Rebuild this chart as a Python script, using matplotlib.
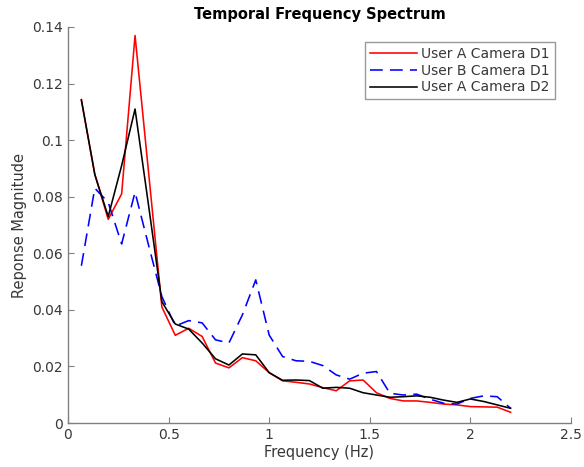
import numpy as np
import matplotlib
matplotlib.use("Agg")
import matplotlib.pyplot as plt
from matplotlib.ticker import FuncFormatter

freq = [k / 15 for k in range(1, 34)]

user_a_d1 = [0.114, 0.088, 0.072, 0.081, 0.137, 0.089, 0.041, 0.031, 0.0335, 0.0306,
             0.0212, 0.0195, 0.0231, 0.022, 0.0178, 0.0149, 0.0144, 0.0138, 0.0125, 0.0114,
             0.0149, 0.0152, 0.0107, 0.0087, 0.0078, 0.0078, 0.0073, 0.0067, 0.0064, 0.0058,
             0.0057, 0.0056, 0.0038]
user_b_d1 = [0.0556, 0.083, 0.078, 0.0633, 0.0816, 0.063, 0.0447, 0.0343, 0.0362, 0.0354,
             0.0294, 0.0283, 0.0382, 0.0506, 0.0311, 0.0235, 0.022, 0.0218, 0.0203, 0.017,
             0.0155, 0.0176, 0.0182, 0.0105, 0.0099, 0.0102, 0.0084, 0.007, 0.0067, 0.0087,
             0.0096, 0.0093, 0.0052]
user_a_d2 = [0.1143, 0.0878, 0.073, 0.091, 0.111, 0.0772, 0.0429, 0.035, 0.0332, 0.0283,
             0.0227, 0.0205, 0.0244, 0.0241, 0.0178, 0.0151, 0.0152, 0.015, 0.0123, 0.0126,
             0.0123, 0.0107, 0.0099, 0.0091, 0.0093, 0.0096, 0.0091, 0.0081, 0.0073, 0.0085,
             0.0076, 0.0064, 0.0052]

x_ticks = [0, 0.5, 1, 1.5, 2, 2.5]
y_ticks = [0, 0.02, 0.04, 0.06, 0.08, 0.1, 0.12, 0.14]

plt.rcParams['font.family'] = ['DejaVu Sans']
fig = plt.figure(figsize=(5.84, 4.67), dpi=100)
ax = fig.add_axes([0.1164, 0.0942, 0.8613, 0.848])

ax.plot(freq, user_a_d1, color='#ff0000', lw=1.15, label='User A Camera D1')
ax.plot(freq, user_b_d1, color='#0000ff', lw=1.15, dashes=(8, 4.5), label='User B Camera D1')
ax.plot(freq, user_a_d2, color='#000000', lw=1.15, label='User A Camera D2')

ax.set_xlim(0, 2.5)
ax.set_ylim(0, 0.14)
ax.set_xticks(x_ticks)
ax.set_yticks(y_ticks)
ax.xaxis.set_major_formatter(FuncFormatter(lambda v, p: f"{v:g}"))
ax.yaxis.set_major_formatter(FuncFormatter(lambda v, p: f"{v:g}"))

for s in ['top', 'right']:
    ax.spines[s].set_visible(False)
for s in ['left', 'bottom']:
    ax.spines[s].set_color('#808080')
    ax.spines[s].set_linewidth(1.0)
ax.tick_params(direction='in', length=4, color='#808080', labelcolor='#383838',
               labelsize=10)

ax.set_xlabel('Frequency (Hz)', fontsize=10.5, color='#383838', labelpad=2)
ax.set_ylabel('Reponse Magnitude', fontsize=10.5, color='#383838', labelpad=4)
ax.set_title('Temporal Frequency Spectrum', fontsize=10.5, fontweight='bold', pad=6)

leg = ax.legend(loc='upper right', bbox_to_anchor=(0.968, 0.962), fontsize=10,
                frameon=True, fancybox=False, edgecolor='#808080', handlelength=3.4,
                borderpad=0.35, labelspacing=0.2, handletextpad=0.3, borderaxespad=0)
leg.get_frame().set_linewidth(1.0)
for t in leg.get_texts():
    t.set_color('#383838')

fig.savefig('out.png', dpi=100)
